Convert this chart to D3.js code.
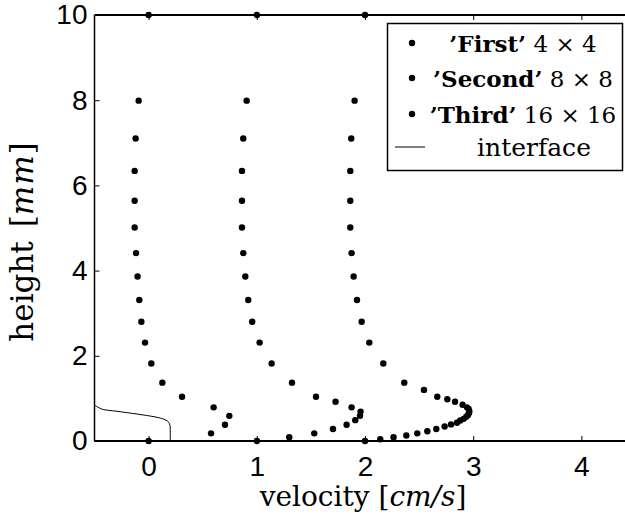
<!DOCTYPE html>
<html><head><meta charset="utf-8">
<script src="https://cdn.jsdelivr.net/npm/d3@7"></script>
<style>body{margin:0;background:#fff}svg{display:block}</style>
</head><body><svg id="c" width="625" height="520"></svg>
<script>
const xTicks = [0, 1, 2, 3, 4];
const yTicks = [0, 2, 4, 6, 8, 10];

const firstVel    = [0, -0.092, -0.120, -0.129, -0.129, -0.129, -0.116, -0.102, -0.086, -0.067, -0.033, 0.025, 0.127, 0.309, 0.601, 0.746, 0.706, 0.577, 0];
const firstHeight = [10, 7.99, 7.10, 6.34, 5.64, 5.01, 4.41, 3.86, 3.31, 2.80, 2.31, 1.82, 1.37, 1.04, 0.79, 0.59, 0.38, 0.18, 0];

const secondVel    = [1, 0.906, 0.875, 0.863, 0.863, 0.863, 0.875, 0.894, 0.921, 0.958, 1.026, 1.137, 1.325, 1.547, 1.728, 1.876, 1.959, 1.954, 1.910, 1.830, 1.704, 1.531, 1.300, 1];
const secondHeight = [10, 7.99, 7.10, 6.34, 5.64, 5.01, 4.41, 3.86, 3.31, 2.80, 2.31, 1.82, 1.37, 1.04, 0.92, 0.79, 0.69, 0.59, 0.49, 0.38, 0.28, 0.18, 0.09, 0];

const thirdVel    = [2, 1.904, 1.873, 1.864, 1.864, 1.864, 1.876, 1.895, 1.926, 1.969, 2.040, 2.169, 2.363, 2.545, 2.668, 2.761, 2.832, 2.902, 2.943, 2.958, 2.964, 2.961, 2.952, 2.936, 2.912, 2.880, 2.850, 2.795, 2.736, 2.659, 2.576, 2.483, 2.382, 2.264, 2.141, 2];
const thirdHeight = [10, 7.99, 7.10, 6.34, 5.64, 5.01, 4.41, 3.86, 3.31, 2.80, 2.31, 1.82, 1.37, 1.20, 1.04, 0.98, 0.92, 0.85, 0.79, 0.75, 0.70, 0.66, 0.61, 0.57, 0.52, 0.48, 0.43, 0.39, 0.34, 0.28, 0.23, 0.18, 0.13, 0.09, 0.04, 0];

const interfaceVel    = [-0.5, -0.45, -0.42, -0.3, -0.1, 0.05, 0.12, 0.16, 0.185, 0.197, 0.2, 0.2];
const interfaceHeight = [0.84, 0.77, 0.74, 0.70, 0.63, 0.57, 0.53, 0.49, 0.44, 0.37, 0.28, 0];

const legendNames = ["’First’", "’Second’", "’Third’", "interface"];
const legendSizes = ["4 × 4", "8 × 8", "16 × 16", ""];

const svg = d3.select("#c");
const x = d3.scaleLinear().domain([-0.5, 4.5]).range([94.5, 635.5]);
const y = d3.scaleLinear().domain([0, 10]).range([441, 15]);

const tickFont = "'Liberation Sans', Arial, sans-serif";
const serif = "'DejaVu Serif', serif";

// axes
const gl = svg.append("g").attr("transform", `translate(${x(-0.5)},0)`)
  .call(d3.axisLeft(y).tickValues(yTicks).tickFormat(d3.format("d")).tickSize(-5).tickPadding(7));
const gb = svg.append("g").attr("transform", `translate(0,${y(0)})`)
  .call(d3.axisBottom(x).tickValues(xTicks).tickFormat(d3.format("d")).tickSize(-5).tickPadding(15));
const gt = svg.append("g").attr("transform", `translate(0,${y(10)})`)
  .call(d3.axisTop(x).tickValues(xTicks).tickFormat("").tickSize(-5));
[gl, gb, gt].forEach(g => {
  g.select(".domain").remove();
  g.selectAll(".tick line").attr("stroke", "#000").attr("stroke-width", 1);
  g.selectAll("text").attr("font-family", tickFont).attr("font-size", 28).attr("fill", "#000");
});

// spines
svg.append("line").attr("x1", x(-0.5)).attr("x2", x(4.5)).attr("y1", y(0)).attr("y2", y(0)).attr("stroke", "#000").attr("stroke-width", 2);
svg.append("line").attr("x1", x(-0.5)).attr("x2", x(4.5)).attr("y1", y(10)).attr("y2", y(10)).attr("stroke", "#000").attr("stroke-width", 2);
svg.append("line").attr("x1", x(-0.5)).attr("x2", x(-0.5)).attr("y1", y(0)).attr("y2", y(10)).attr("stroke", "#000").attr("stroke-width", 1.5);

// interface line
const ifData = interfaceVel.map((v, i) => [v, interfaceHeight[i]]);
svg.append("path").datum(ifData)
  .attr("d", d3.line().x(d => x(d[0])).y(d => y(d[1])).curve(d3.curveCatmullRom))
  .attr("fill", "none").attr("stroke", "#000").attr("stroke-width", 1);

// points
const series = [[firstVel, firstHeight], [secondVel, secondHeight], [thirdVel, thirdHeight]];
series.forEach(([vs, hs]) => {
  svg.append("g").selectAll("circle").data(vs.map((v, i) => [v, hs[i]])).join("circle")
    .attr("cx", d => x(d[0])).attr("cy", d => y(d[1])).attr("r", 3.2).attr("fill", "#000");
});

// axis titles
const xl = svg.append("text").attr("x", 363).attr("y", 506).attr("text-anchor", "middle")
  .attr("font-family", serif).attr("font-size", 28).attr("fill", "#000");
xl.append("tspan").text("velocity [");
xl.append("tspan").attr("font-style", "italic").text("cm/s");
xl.append("tspan").text("]");

const yl = svg.append("text").attr("transform", "translate(33,242) rotate(-90)").attr("text-anchor", "middle")
  .attr("font-family", serif).attr("font-size", 31).attr("fill", "#000");
yl.append("tspan").text("height");
yl.append("tspan").attr("dx", 4).text(" [");
yl.append("tspan").attr("font-style", "italic").attr("letter-spacing", 1).text("mm");
yl.append("tspan").text("]");

// legend
svg.append("rect").attr("x", 387.5).attr("y", 23.5).attr("width", 235).attr("height", 147)
  .attr("fill", "#fff").attr("stroke", "#000").attr("stroke-width", 1.5);
const rowY = [43, 78, 114, 147];
legendNames.forEach((n, i) => {
  if (i < 3) {
    svg.append("circle").attr("cx", 412).attr("cy", rowY[i]).attr("r", 3.2).attr("fill", "#000");
    const t = svg.append("text").attr("x", 523).attr("y", rowY[i] + 9).attr("text-anchor", "middle")
      .attr("font-family", serif).attr("font-size", 23).attr("fill", "#000");
    t.append("tspan").attr("font-weight", "bold").text(n);
    t.append("tspan").text(" " + legendSizes[i]);
  } else {
    svg.append("line").attr("x1", 395).attr("x2", 425).attr("y1", rowY[i]).attr("y2", rowY[i]).attr("stroke", "#000").attr("stroke-width", 1);
    svg.append("text").attr("x", 534).attr("y", rowY[i] + 9).attr("text-anchor", "middle")
      .attr("font-family", serif).attr("font-size", 25).attr("fill", "#000").text(n);
  }
});
</script></body></html>
